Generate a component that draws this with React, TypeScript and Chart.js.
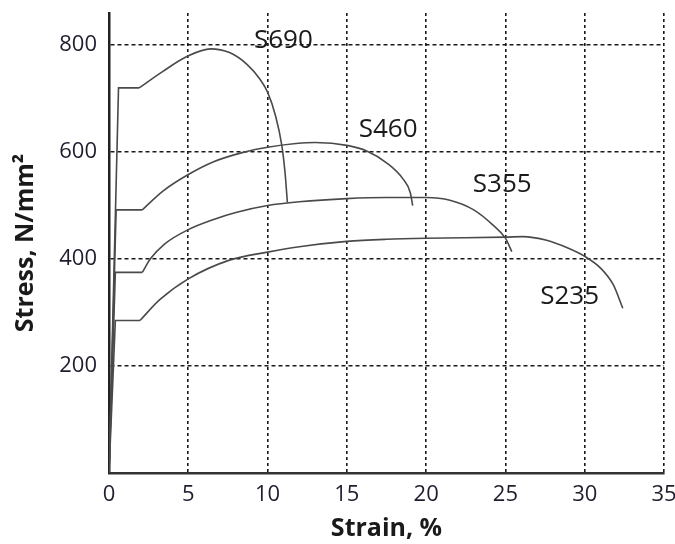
import React, { useEffect, useRef } from "react";
import { Chart, registerables } from "chart.js";

Chart.register(...registerables);

// Stress-strain curves (strain %, stress N/mm²)
const strainS690 = [0, 0.6, 1.9, 3.4, 5.0, 6.4, 7.6, 8.7, 9.5, 10.0, 10.5, 10.9, 11.1, 11.25];
const stressS690 = [0, 720, 720, 751, 780, 793, 786, 764, 737, 712, 668, 612, 562, 506];

const strainS460 = [0, 0.45, 2.1, 3.4, 5.0, 6.6, 8.4, 10.0, 11.8, 13.0, 15.1, 16.25, 17.5, 18.56, 19.0, 19.15];
const stressS460 = [0, 492, 492, 527, 558, 582, 599, 609, 616, 618, 612, 602, 580, 549, 524, 500];

const strainS355 = [0, 0.4, 2.1, 2.6, 3.5, 5.0, 6.6, 8.0, 10.0, 12.0, 15.0, 17.5, 20.0, 21.5, 23.0, 24.2, 25.0, 25.4];
const stressS355 = [0, 375, 375, 400, 428, 455, 474, 487, 500, 507, 513, 515, 515, 510, 492, 464, 439, 414];

const strainS235 = [0, 0.4, 1.95, 3.2, 5.0, 7.6, 10.0, 12.0, 15.0, 17.5, 20.0, 25.0, 26.1, 27.6, 28.9, 30.0, 31.0, 31.8, 32.4];
const stressS235 = [0, 285, 285, 324, 363, 398, 413, 423, 433, 437, 439, 441, 442, 435, 421, 405, 383, 352, 308];

// first 3 points = elastic line + yield plateau; from the 3rd point on = hardening curve
const plateauEnd = 2;

const labelNames = ["S690", "S460", "S355", "S235"];
const labelStrain = [11.0, 17.6, 24.8, 29.05];
const labelStress = [808, 642, 539, 329];

const yTickValues = [200, 400, 600, 800];

const toPoints = (xs: number[], ys: number[]) => xs.map((x, i) => ({ x, y: ys[i] }));

const labelPlugin = {
  id: "curveLabels",
  afterDatasetsDraw(chart: any) {
    const { ctx, scales } = chart;
    const xs = scales.x;
    const ys = scales.y;
    ctx.save();
    ctx.font = '26px "Open Sans"';
    ctx.fillStyle = "#1a1a1a";
    ctx.textAlign = "center";
    ctx.textBaseline = "middle";
    labelNames.forEach((t, i) => {
      ctx.fillText(t, xs.getPixelForValue(labelStrain[i]), ys.getPixelForValue(labelStress[i]));
    });
    ctx.restore();
  },
};

export default function App() {
  const ref = useRef<HTMLCanvasElement | null>(null);

  useEffect(() => {
    if (!ref.current) return;
    const base = {
      showLine: true,
      pointRadius: 0,
      borderColor: "#4a4a4a",
      borderWidth: 1.6,
      fill: false,
    };
    const curves: [string, number[], number[]][] = [
      ["S690", strainS690, stressS690],
      ["S460", strainS460, stressS460],
      ["S355", strainS355, stressS355],
      ["S235", strainS235, stressS235],
    ];
    const datasets: any[] = [];
    curves.forEach(([name, xs, ys]) => {
      datasets.push({
        label: name + " elastic",
        data: toPoints(xs.slice(0, plateauEnd + 1), ys.slice(0, plateauEnd + 1)),
        tension: 0,
        ...base,
      });
      datasets.push({
        label: name,
        data: toPoints(xs.slice(plateauEnd), ys.slice(plateauEnd)),
        cubicInterpolationMode: "monotone",
        ...base,
      });
    });
    const chart = new Chart(ref.current, {
      type: "scatter",
      data: { datasets },
      options: {
        animation: false,
        responsive: false,
        layout: { padding: { top: 13, right: 11, left: 0, bottom: 0 } },
        plugins: { legend: { display: false }, tooltip: { enabled: false } },
        scales: {
          x: {
            type: "linear",
            min: 0,
            max: 35,
            ticks: {
              stepSize: 5,
              padding: 9,
              color: "#1e1e2e",
              font: { family: "Open Sans", size: 22 },
            },
            grid: {
              drawTicks: false,
              lineWidth: 1.6,
              color: (c: any) => (c.tick && c.tick.value === 0 ? "rgba(0,0,0,0)" : "#1a1a1a"),
            },
            border: { display: true, color: "#333", width: 2.5, dash: [3, 3] },
            title: {
              display: true,
              text: "Strain, %",
              color: "#1a1a1a",
              font: { family: "Open Sans", size: 25, weight: "bold" },
              padding: { top: 0, bottom: 0 },
            },
            afterFit: (s: any) => {
              s.height = 71;
              s.paddingLeft = 0;
              s.paddingRight = 0;
            },
          },
          y: {
            type: "linear",
            min: 0,
            max: 860,
            afterBuildTicks: (s: any) => {
              s.ticks = yTickValues.map((v) => ({ value: v }));
            },
            ticks: {
              padding: 12,
              color: "#1e1e2e",
              font: { family: "Open Sans", size: 22 },
            },
            grid: {
              drawTicks: false,
              lineWidth: 1.6,
              color: "#1a1a1a",
            },
            border: { display: true, color: "#222", width: 2.5, dash: [4, 3] },
            title: {
              display: true,
              text: "Stress, N/mm²",
              color: "#1a1a1a",
              font: { family: "Open Sans", size: 25, weight: "bold" },
              padding: { top: 11, bottom: 0 },
            },
            afterFit: (s: any) => {
              s.width = 109;
              s.paddingTop = 0;
              s.paddingBottom = 0;
            },
          },
        },
      },
      plugins: [labelPlugin],
    });
    return () => chart.destroy();
  }, []);

  return (
    <div style={{ position: "fixed", left: 0, top: 0, width: 675, height: 544, background: "#fff" }}>
      <canvas ref={ref} width={675} height={544} style={{ display: "block" }} />
    </div>
  );
}
